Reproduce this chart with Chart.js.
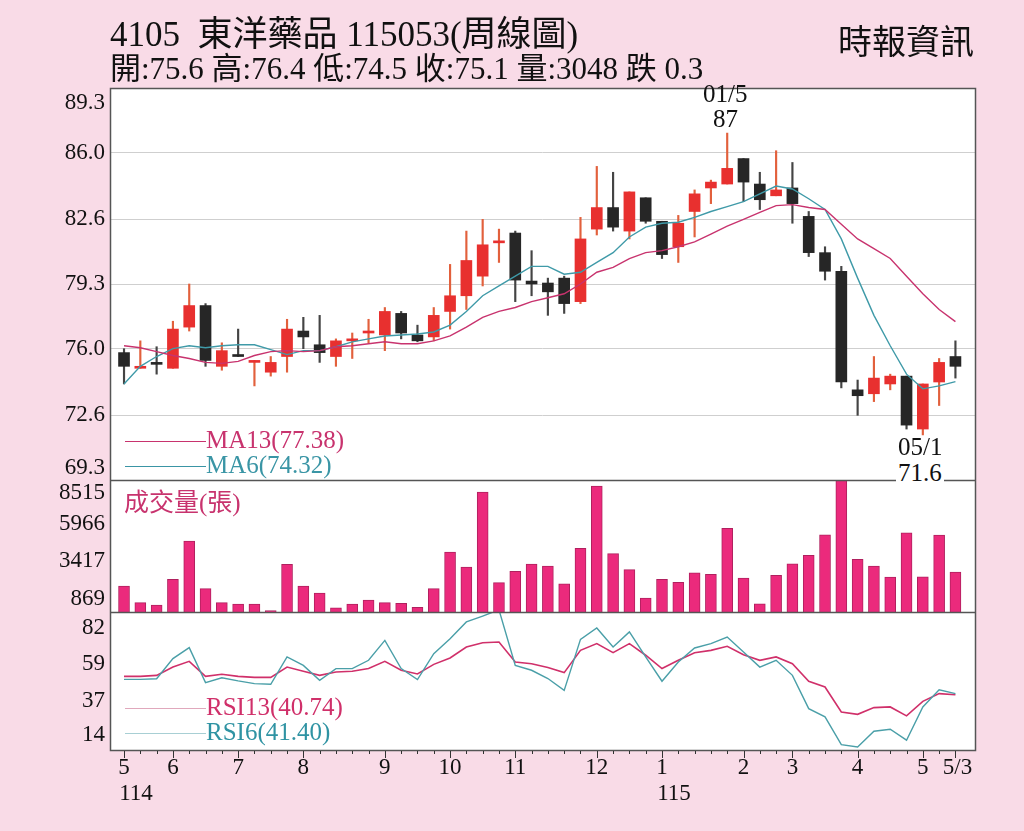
<!DOCTYPE html>
<html><head><meta charset="utf-8">
<script src="https://cdn.jsdelivr.net/npm/chart.js@4/dist/chart.umd.min.js"></script>
<style>
html,body{margin:0;padding:0;background:#f9dbe7;width:1024px;height:831px;overflow:hidden;font-family:"Liberation Serif","Noto Sans CJK TC",serif;}
#panel{position:absolute;left:110px;top:88px;width:865px;height:662px;background:#fff;}
canvas{position:absolute;left:0;}
.t{position:absolute;white-space:nowrap;color:#111;}
</style></head><body>
<div id="panel"></div>
<canvas id="cp" style="top:88px" width="1024" height="392"></canvas>
<canvas id="cv" style="top:480px" width="1024" height="132"></canvas>
<canvas id="cr" style="top:612px" width="1024" height="138"></canvas>
<canvas id="cx" style="top:0px;pointer-events:none" width="1024" height="831"></canvas>
<div class="t" style="left:110px;top:5px;font-size:35px;">4105&nbsp; 東洋藥品 115053(周線圖)</div>
<div class="t" style="left:110px;top:43px;font-size:31px;">開:75.6 高:76.4 低:74.5 收:75.1 量:3048 跌 0.3</div>
<div class="t" style="left:838px;top:15px;font-size:34px;">時報資訊</div>
<div class="t" style="left:703px;top:80px;font-size:25px;">01/5</div>
<div class="t" style="left:713px;top:105px;font-size:25px;">87</div>
<div class="t" style="left:898px;top:433px;font-size:25px;">05/1</div>
<div class="t" style="left:896px;top:459px;font-size:25px;background:#fff;padding:0 2px;">71.6</div>
<div class="t" style="left:124px;top:482px;font-size:25px;color:#c8336e;">成交量(張)</div>
<script>
const opens =[75.8,75.0,75.25,75.0,77.1,78.2,75.1,75.65,75.3,74.8,75.6,76.9,76.2,75.6,76.4,76.8,76.7,77.8,76.7,76.6,77.9,78.7,79.7,81.4,81.9,79.45,79.35,79.6,78.4,82.1,83.2,82.0,83.7,82.5,81.2,83.0,84.2,84.4,85.7,84.4,83.8,84.2,82.75,80.9,79.95,73.9,73.7,74.2,74.6,71.9,74.3,75.6];
const highs =[76.0,76.4,76.1,77.4,79.3,78.3,76.3,77.0,75.4,75.6,77.5,77.6,77.7,76.5,76.8,77.5,78.1,77.9,77.2,78.1,80.3,82.0,82.6,82.1,82.0,81.0,79.6,79.7,82.7,85.3,85.0,84.0,83.7,82.5,82.8,84.1,84.6,87.0,85.7,85.0,86.1,85.5,83.0,81.2,80.2,74.4,75.6,74.7,74.6,74.2,75.5,76.4];
const lows  =[74.2,75.0,74.7,75.0,76.9,75.1,74.9,75.6,74.1,74.6,74.8,76.0,75.3,75.1,75.5,76.3,75.9,76.5,76.35,76.4,77.0,78.0,79.2,80.4,78.4,78.7,77.7,77.8,78.3,81.8,82.0,81.6,82.4,80.6,80.4,81.7,83.4,84.4,83.5,83.1,83.8,82.4,80.7,79.5,74.0,72.6,73.3,73.9,71.9,71.6,73.1,74.5];
const closes=[75.1,75.1,75.2,77.0,78.2,75.4,75.9,75.6,75.3,75.3,77.0,76.6,75.8,76.4,76.45,76.85,77.9,76.8,76.4,77.7,78.7,80.5,81.3,81.5,79.5,79.3,78.9,78.3,81.6,83.2,82.2,84.0,82.5,80.8,82.4,83.9,84.5,85.2,84.5,83.6,84.1,83.4,80.9,79.95,74.3,73.6,74.5,74.6,72.1,74.2,75.3,75.1];
const ma13=[76.15,76.05,75.85,75.65,75.5,75.3,75.25,75.35,75.65,75.85,75.9,75.85,75.9,76.1,76.15,76.25,76.35,76.25,76.25,76.4,76.65,77.1,77.6,77.9,78.1,78.4,78.6,78.8,79.3,79.9,80.15,80.6,80.9,81.0,81.2,81.45,81.85,82.25,82.6,82.95,83.3,83.35,83.2,83.1,82.35,81.6,81.1,80.6,79.7,78.8,78.0,77.38];
const ma6=[74.2,75.1,75.6,76.0,76.15,76.05,76.15,76.2,76.2,75.95,75.7,75.9,75.9,76.1,76.35,76.5,76.65,76.7,76.75,76.85,77.2,77.9,78.7,79.2,79.7,80.2,80.2,79.8,79.9,80.4,80.9,81.7,82.2,82.4,82.45,82.7,83.0,83.25,83.5,83.9,84.3,84.15,83.65,83.1,81.6,79.6,77.7,76.15,74.7,73.95,74.1,74.32];
const volumes=[1755,630,470,2205,4790,1575,630,540,540,90,3220,1755,1280,290,540,810,630,585,315,1575,4050,3040,8100,1980,2745,3240,3105,1910,4300,8505,3940,2860,945,2205,2000,2655,2540,5650,2295,560,2475,3260,3825,5220,9500,3555,3105,2360,5355,2385,5200,2700];
const rsi13=[51.6,51.6,52.2,57.1,60.5,51.6,52.8,51.6,51.0,51.0,57.1,54.6,52.2,54.2,54.6,56.2,60.5,55.2,53.0,58.7,62.5,69.0,71.5,71.9,60.1,59.1,56.8,53.8,67.0,71.0,65.6,71.0,64.1,56.2,61.1,65.6,67.0,69.4,64.4,61.1,63.1,59.1,48.7,45.3,30.5,29.1,33.1,33.5,28.2,36.8,41.4,40.74];
const rsi6=[49.8,49.8,50.2,62.1,68.6,47.9,50.8,48.9,47.3,46.9,63.1,58.1,49.3,56.2,56.2,61.1,72.9,56.2,49.7,65.0,73.9,83.8,87.3,91.0,58.1,55.2,50.3,43.3,73.5,80.2,69.0,77.9,63.1,48.7,60.1,68.4,71.0,74.9,66.0,57.1,61.1,52.2,32.5,27.6,11.2,9.8,19.1,20.3,13.8,33.5,43.7,41.4];
const priceTicks=[69.3,72.6,76.0,79.3,82.6,86.0,89.3];
const volTicks=[869,3417,5966,8515];
const rsiTicks=[14,37,59,82];
const xTickIdx=[0,3,7,11,16,20,24,29,33,38,41,45,49,51];
const xTickText=['5','6','7','8','9','10','11','12','1','2','3','4','5','5/3'];
const yearIdx=[0,33];
const yearText=['114','115'];

const RED='#e8302f', BLACK='#262626';
const n=opens.length;
const idx=[...Array(n).keys()];
const up=idx.map(i=>closes[i]>=opens[i]);
const XMIN=-0.86, XMAX=52.2;
const xScale={type:'linear',min:XMIN,max:XMAX,display:false,offset:false};
const pad={left:110,right:49,top:0,bottom:0};
const FONT='"Liberation Serif", serif';

function yLabelPlugin(ticks,fmt,inset){
  return {id:'yl',afterDraw(c){
    const ctx=c.ctx,s=c.scales.y,a=c.chartArea;
    ctx.save();ctx.fillStyle='#111';ctx.font='23px '+FONT;ctx.textAlign='right';ctx.textBaseline='middle';
    ticks.forEach(t=>{let y=s.getPixelForValue(t);y=Math.max(a.top+inset[0],Math.min(a.bottom-inset[1],y));ctx.fillText(fmt(t),105,y);});
    ctx.restore();}};
}
const lineDS=(data,color,w)=>({type:'line',data:idx.map(i=>({x:i,y:data[i]})),borderColor:color,borderWidth:w,pointRadius:0,tension:0,order:0});

new Chart(document.getElementById('cp'),{
  type:'bar',
  data:{datasets:[
    lineDS(ma13,'#c8336e',1.4),
    lineDS(ma6,'#3f9aa8',1.4),
    {data:idx.map(i=>({x:i,y:[lows[i],highs[i]]})),backgroundColor:idx.map(i=>up[i]?'#e2603c':'#444'),barThickness:1.5,grouped:false,order:2},
    {data:idx.map(i=>({x:i,y:[opens[i],closes[i]]})),backgroundColor:idx.map(i=>up[i]?RED:BLACK),barThickness:11,minBarLength:2,grouped:false,order:1}
  ]},
  options:{responsive:false,animation:false,layout:{padding:pad},plugins:{legend:{display:false},tooltip:{enabled:false}},
    scales:{x:xScale,y:{min:69.3,max:89.3,afterBuildTicks:s=>{s.ticks=priceTicks.slice(1,-1).map(v=>({value:v}));},
      ticks:{display:false},grid:{color:'#cfcfcf',drawTicks:false,lineWidth:1},border:{display:false}}}},
  plugins:[yLabelPlugin(priceTicks,v=>v.toFixed(1),[15,12])]
});
new Chart(document.getElementById('cv'),{
  type:'bar',
  data:{datasets:[{data:idx.map(i=>({x:i,y:volumes[i]})),backgroundColor:'#eb2a7c',borderColor:'#b0205e',borderWidth:{left:1,right:1,top:1,bottom:0},barThickness:11}]},
  options:{responsive:false,animation:false,layout:{padding:pad},plugins:{legend:{display:false},tooltip:{enabled:false}},
    scales:{x:xScale,y:{min:0,max:8920,display:false}}},
  plugins:[yLabelPlugin(volTicks,v=>String(v),[13,11])]
});
new Chart(document.getElementById('cr'),{
  type:'line',
  data:{datasets:[lineDS(rsi6,'#4a9fa8',1.4),lineDS(rsi13,'#d0306a',1.6)]},
  options:{responsive:false,animation:false,layout:{padding:pad},plugins:{legend:{display:false},tooltip:{enabled:false}},
    scales:{x:xScale,y:{min:8,max:89.7,display:false}}},
  plugins:[yLabelPlugin(rsiTicks,v=>String(v),[16,15])]
});

const cx=document.getElementById('cx').getContext('2d');
const px=i=>110+(i-XMIN)/(XMAX-XMIN)*865;
cx.strokeStyle='#555';cx.lineWidth=1.5;
cx.strokeRect(110.5,88.5,865,662);
cx.beginPath();cx.moveTo(110,480.5);cx.lineTo(975,480.5);cx.moveTo(110,612.5);cx.lineTo(975,612.5);cx.stroke();
cx.lineWidth=1;cx.strokeStyle='#333';
idx.forEach(i=>{const x=Math.round(px(i))+0.5;cx.beginPath();cx.moveTo(x,751);cx.lineTo(x,xTickIdx.includes(i)?758:754);cx.stroke();});
cx.fillStyle='#111';cx.font='23px '+FONT;cx.textAlign='center';cx.textBaseline='middle';
xTickIdx.forEach((i,k)=>cx.fillText(xTickText[k],px(i)+(xTickText[k]==='5/3'?2:0),768));
yearIdx.forEach((i,k)=>cx.fillText(yearText[k],px(i)+12,794));
function leg(y,color,text,lineColor){cx.strokeStyle=lineColor;cx.lineWidth=1;cx.beginPath();cx.moveTo(125,y+0.5);cx.lineTo(206,y+0.5);cx.stroke();
  cx.fillStyle=color;cx.font='25px '+FONT;cx.textAlign='left';cx.fillText(text,206,y);}
leg(441,'#c8336e','MA13(77.38)','#c8336e');
leg(466,'#3a95a5','MA6(74.32)','#3a95a5');
leg(708,'#d0306a','RSI13(40.74)','#e0a8bc');
leg(733,'#2f93a3','RSI6(41.40)','#a8cfd4');
</script>
</body></html>
